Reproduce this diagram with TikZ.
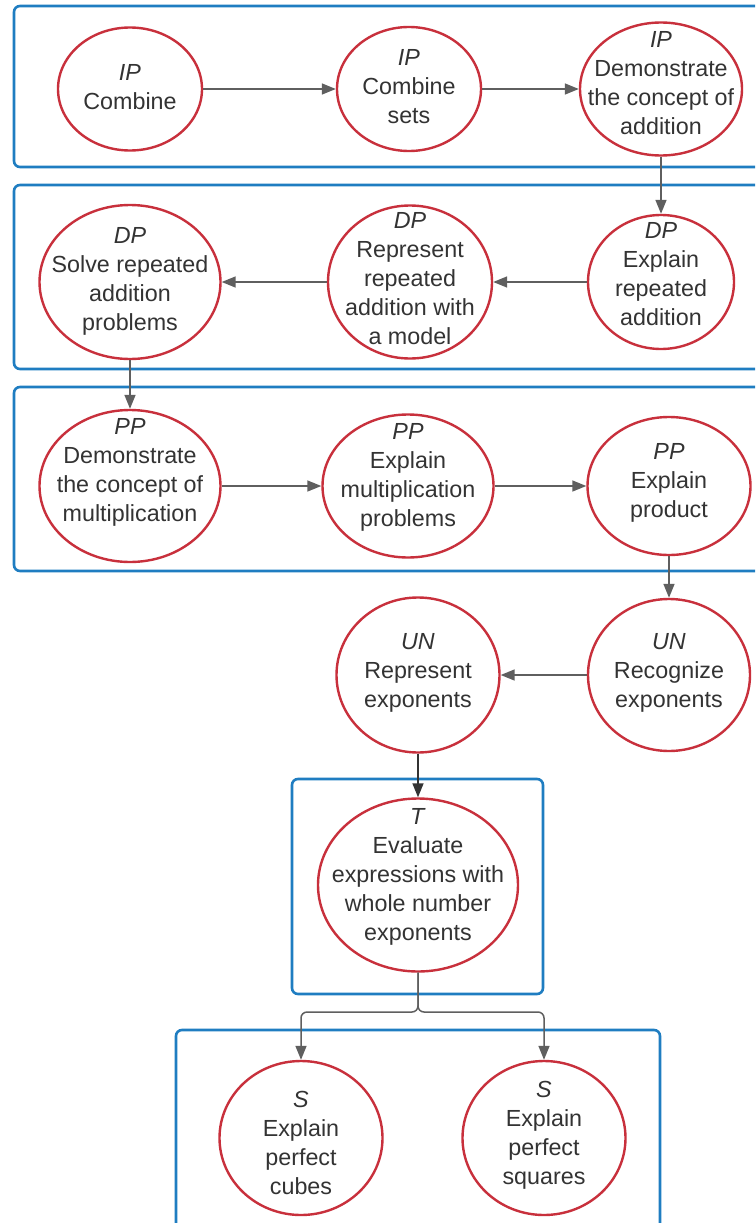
\documentclass[tikz,border=0pt]{standalone}
\usepackage{fontspec}
\setmainfont{Liberation Sans}
\usetikzlibrary{shapes.geometric,arrows.meta}
\definecolor{boxblue}{HTML}{1F7DC1}
\definecolor{ellred}{HTML}{C8303C}
\definecolor{arrgray}{HTML}{5F5F5F}
\definecolor{txtgray}{HTML}{333333}
\tikzset{
  grp/.style={draw=boxblue, line width=2.6pt, rounded corners=6pt},
  ell/.style={ellipse, draw=ellred, line width=2.4pt, fill=white, inner sep=0pt},
  txt/.style={align=center, text=txtgray, inner sep=0pt, font=\fontsize{23.3}{29}\selectfont},
  arr/.style={draw=arrgray, line width=1.5pt, -{Triangle[length=14pt,width=11pt]}},
}
\newcommand{\mkell}[6]{%
  \node[ell, minimum width=#3pt, minimum height=#4pt] (#1) at (#2) {};
  \node[txt] (#1-t) at ([yshift=#5pt]#1.center) {#6};
}
\begin{document}
\begin{tikzpicture}[x=1pt,y=-1pt]
\useasboundingbox (0,0) rectangle (755,1223);
\clip (0,0) rectangle (755,1223);
\fill[white] (0,0) rectangle (755,1223);
% group boxes
\draw[grp] (14,6) rectangle (780,167);
\draw[grp] (14,185) rectangle (780,369);
\draw[grp] (14,387) rectangle (780,571);
\draw[grp] (292,779) rectangle (543,994);
\draw[grp] (176,1030) rectangle (660,1250);
% row 1
\mkell{ipa}{130,89}{144}{123}{1.5}{\textit{IP}\\Combine}
\mkell{ipb}{409,89}{144}{124}{2}{\textit{IP}\\Combine\\sets}
\mkell{ipc}{661,89}{162}{133}{5.5}{\textit{IP}\\Demonstrate\\the concept of\\addition}
% row 2
\mkell{dpa}{130,282}{181}{154}{0.5}{\textit{DP}\\Solve repeated\\addition\\problems}
\mkell{dpb}{410,282}{164}{153}{3}{\textit{DP}\\Represent\\repeated\\addition with\\a model}
\mkell{dpc}{661,282}{146}{134}{8}{\textit{DP}\\Explain\\repeated\\addition}
% row 3
\mkell{ppa}{130,486}{181}{152}{14}{\textit{PP}\\Demonstrate\\the concept of\\multiplication}
\mkell{ppb}{408,486}{171}{143}{9}{\textit{PP}\\Explain\\multiplication\\problems}
\mkell{ppc}{669,486}{163}{138}{3}{\textit{PP}\\Explain\\product}
% row 4
\mkell{una}{418,675}{163}{155}{2}{\textit{UN}\\Represent\\exponents}
\mkell{unb}{669,675}{162}{152}{2}{\textit{UN}\\Recognize\\exponents}
% T
\mkell{tt}{418,885}{200}{173}{8}{\textit{T}\\Evaluate\\expressions with\\whole number\\exponents}
% S
\mkell{sa}{301,1138}{163}{154}{-5}{\textit{S}\\Explain\\perfect\\cubes}
\mkell{sb}{544,1138}{163}{154}{3}{\textit{S}\\Explain\\perfect\\squares}
% connectors
\draw[arr] (ipa.east) -- (ipb.west);
\draw[arr] (ipb.east) -- (ipc.west);
\draw[arr] (ipc.south) -- (dpc.north);
\draw[arr] (dpc.west) -- (dpb.east);
\draw[arr] (dpb.west) -- (dpa.east);
\draw[arr] (dpa.south) -- (ppa.north);
\draw[arr] (ppa.east) -- (ppb.west);
\draw[arr] (ppb.east) -- (ppc.west);
\draw[arr] (ppc.south) -- (unb.north);
\draw[arr] (unb.west) -- (una.east);
\draw[arr, draw=txtgray] (una.south) -- (tt.north);
\coordinate (split) at (418,1012);
\draw[arr, rounded corners=6pt] (tt.south) -- (split) -| (sa.north);
\draw[arr, rounded corners=6pt] (tt.south) -- (split) -| (sb.north);
\end{tikzpicture}
\end{document}
